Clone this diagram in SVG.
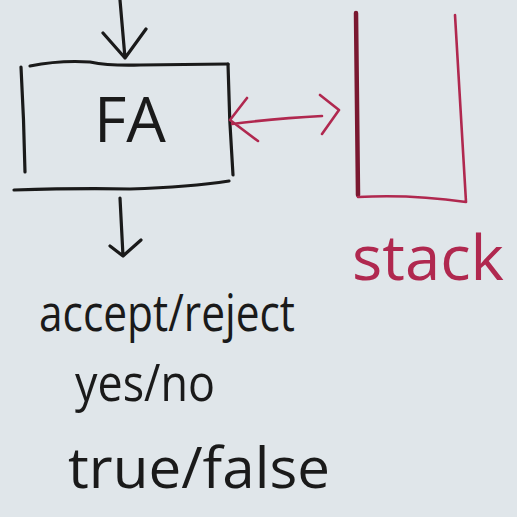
<svg xmlns="http://www.w3.org/2000/svg" width="517" height="517" viewBox="0 0 517 517">
<style>
.ink{fill:none;stroke:#1a1a1a;stroke-width:3.2;stroke-linecap:round;stroke-linejoin:round}
.red{fill:none;stroke:#b0284f;stroke-width:2.6;stroke-linecap:round;stroke-linejoin:round}
.t{font-family:"Open Sans","Liberation Sans",sans-serif;font-weight:400;fill:#1a1a1a}
.tr{font-family:"Open Sans","Liberation Sans",sans-serif;font-weight:400;fill:#b0284f}
</style>
<rect width="517" height="517" fill="#e0e6ea"/>
<g id="fa">
<path class="ink" d="M30 66 Q60 60 90 62 Q110 66 140 65 L228 64"/>
<path class="ink" d="M21 67 Q24 120 25 172"/>
<path class="ink" d="M228 64 Q229 120 233 175"/>
<path class="ink" d="M14 190 Q80 188 130 189 Q190 187 229 181"/>
<text class="t" x="130" y="142" font-size="62" text-anchor="middle" textLength="72" lengthAdjust="spacingAndGlyphs">FA</text>
</g>
<g id="stack">
<path fill="none" stroke="#7a1830" stroke-width="4.5" stroke-linecap="round" d="M356 13 L358 195"/>
<path class="red" d="M358 197 Q410 194 466 202 L455 15"/>
<text class="tr" x="428" y="280" font-size="62" text-anchor="middle" textLength="152" lengthAdjust="spacingAndGlyphs">stack</text>
</g>
<g id="result">
<text class="t" x="167" y="331" font-size="52" text-anchor="middle" textLength="256" lengthAdjust="spacingAndGlyphs">accept/reject</text>
<text class="t" x="145" y="401" font-size="52" text-anchor="middle" textLength="140" lengthAdjust="spacingAndGlyphs">yes/no</text>
<text class="t" x="199" y="488" font-size="56" text-anchor="middle" textLength="262" lengthAdjust="spacingAndGlyphs">true/false</text>
</g>
<g id="connectors">
<path class="ink" d="M120 0 L125 58 M103 33 L125 58 L146 29"/>
<path class="ink" d="M120 198 L123 256 M110 246 L123 256 L141 240"/>
<path class="red" d="M232 124 Q280 118 322 116 M247 98 L230 120 L258 141 M320 95 L339 110 L322 134"/>
</g>
</svg>
